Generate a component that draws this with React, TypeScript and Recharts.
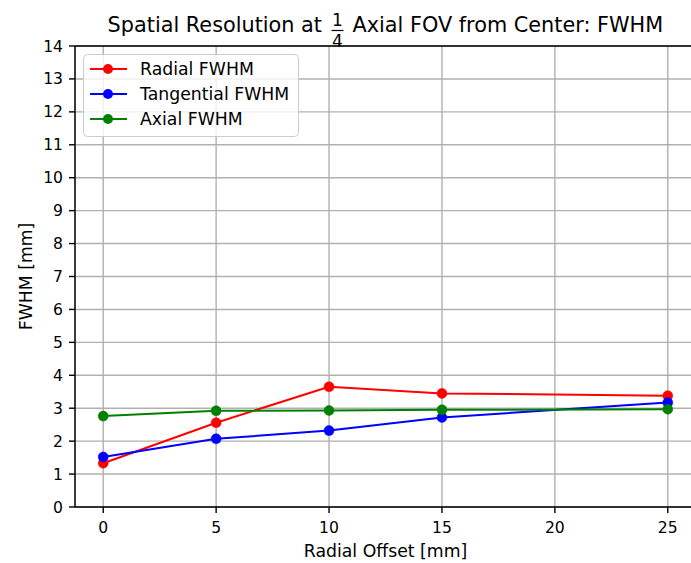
import React from "react";
import {
  LineChart,
  Line,
  XAxis,
  YAxis,
  CartesianGrid,
  ReferenceLine,
} from "recharts";

const offsets = [0, 5, 10, 15, 25];
const radialFwhm = [1.33, 2.56, 3.65, 3.45, 3.38];
const tangentialFwhm = [1.52, 2.07, 2.32, 2.72, 3.17];
const axialFwhm = [2.76, 2.92, 2.93, 2.95, 2.97];
const xTicks = [0, 5, 10, 15, 20, 25];
const yTicks = [0, 1, 2, 3, 4, 5, 6, 7, 8, 9, 10, 11, 12, 13, 14];

const seriesList = [
  { key: "radial", name: "Radial FWHM", color: "#ff0000" },
  { key: "tangential", name: "Tangential FWHM", color: "#0000ff" },
  { key: "axial", name: "Axial FWHM", color: "#008000" },
];

const data = offsets.map((x, i) => ({
  x,
  radial: radialFwhm[i],
  tangential: tangentialFwhm[i],
  axial: axialFwhm[i],
}));

const FONT = "'DejaVu Sans', sans-serif";

// matplotlib-ish legend box, top-left inside the axes
const FwhmLegend = () => (
  <g transform="translate(83 54)">
    <rect
      x={0.5}
      y={0.5}
      width={215}
      height={82}
      rx={4}
      fill="#fff"
      fillOpacity={0.8}
      stroke="#cccccc"
    />
    {seriesList.map((s, i) => {
      const cy = 15 + i * 25;
      return (
        <g key={s.key}>
          <line x1={7} x2={44} y1={cy} y2={cy} stroke={s.color} strokeWidth={2} />
          <circle cx={25} cy={cy} r={5} fill={s.color} />
          <text x={57} y={cy + 6} fontSize={17.3} fill="#000">
            {s.name}
          </text>
        </g>
      );
    })}
  </g>
);

const App = () => {
  return (
    <div
      style={{
        position: "absolute",
        left: 0,
        top: 0,
        width: 691,
        height: 563,
        overflow: "hidden",
        background: "#fff",
      }}
    >
      <LineChart
        width={720}
        height={563}
        data={data}
        margin={{ top: 46, right: 24, left: 0, bottom: 0 }}
        style={{ fontFamily: FONT }}
      >
        <CartesianGrid stroke="#b0b0b0" strokeWidth={1.4} />
        <XAxis
          dataKey="x"
          type="number"
          domain={[-1.25, 26.25]}
          ticks={xTicks}
          height={56}
          stroke="#000"
          strokeWidth={1.4}
          tickSize={6}
          tickMargin={9}
          tick={{ fill: "#000", fontSize: 15.6, fontFamily: FONT }}
          allowDataOverflow
        />
        <YAxis
          type="number"
          domain={[0, 14]}
          ticks={yTicks}
          width={75}
          stroke="#000"
          strokeWidth={1.4}
          tickSize={6}
          tickMargin={6}
          interval={0}
          tick={{ fill: "#000", fontSize: 15.6, fontFamily: FONT }}
        />
        <ReferenceLine y={14} stroke="#000" strokeWidth={1.4} />
        {seriesList.map((s) => (
          <Line
            key={s.key}
            type="linear"
            dataKey={s.key}
            name={s.name}
            stroke={s.color}
            strokeWidth={2}
            dot={{ r: 5, fill: s.color, stroke: s.color, strokeWidth: 0.5 }}
            isAnimationActive={false}
          />
        ))}
      </LineChart>
      <svg
        width={691}
        height={563}
        style={{ position: "absolute", left: 0, top: 0, pointerEvents: "none" }}
        fontFamily={FONT}
      >
        <FwhmLegend />
        <text x={322} y={32} textAnchor="end" fontSize={20.8} fill="#000">
          Spatial Resolution at
        </text>
        {/* stacked 1/4 fraction */}
        <text x={337.5} y={26} textAnchor="middle" fontSize={17} fill="#000">
          1
        </text>
        <line x1={331.5} x2={343.5} y1={30.5} y2={30.5} stroke="#000" strokeWidth={1.2} />
        <text x={337.5} y={46.5} textAnchor="middle" fontSize={17} fill="#000">
          4
        </text>
        <text x={352.5} y={32} textAnchor="start" fontSize={20.8} fill="#000">
          Axial FOV from Center: FWHM
        </text>
        <text x={385.5} y={557} textAnchor="middle" fontSize={17.3} fill="#000">
          Radial Offset [mm]
        </text>
        <text
          x={32}
          y={276.5}
          textAnchor="middle"
          fontSize={17.3}
          fill="#000"
          transform="rotate(-90 32 276.5)"
        >
          FWHM [mm]
        </text>
      </svg>
    </div>
  );
};

export default App;
